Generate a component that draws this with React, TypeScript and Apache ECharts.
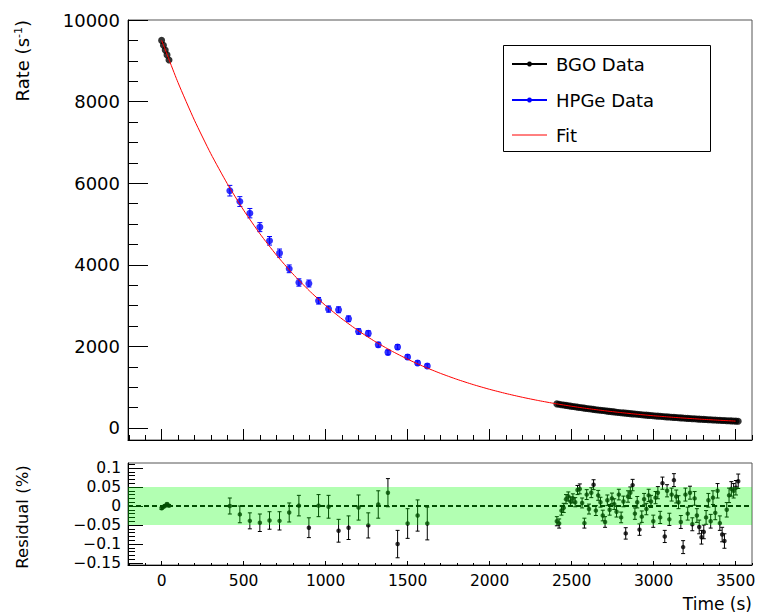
import React, { useEffect, useRef } from "react";
import * as echarts from "echarts";

const FONT = "DejaVu Sans";

// axis ranges
const X_MIN = -205;
const X_MAX = 3600;
const Y_MIN = -295;
const Y_MAX = 10000;
const R_MIN = -0.155;
const R_MAX = 0.113;
const BAND_HI = 0.05;
const BAND_LO = -0.05;

// tick values
const xMajorTicks = [0, 500, 1000, 1500, 2000, 2500, 3000, 3500];
const yMajorTicks = [0, 2000, 4000, 6000, 8000, 10000];
const rMajorTicks = [-0.15, -0.1, -0.05, 0, 0.05, 0.1];

function steps(a: number, b: number, step: number): number[] {
  const out: number[] = [];
  for (let i = 0; a + i * step <= b + 1e-9; i++) out.push(+(a + i * step).toFixed(4));
  return out;
}
const xMinorTicks = steps(-200, 3600, 100);
const yMinorTicks = steps(0, 10000, 500);
const rMinorTicks = steps(-0.15, 0.11, 0.01);

// fit curve
const fitTime = [0, 100, 200, 300, 400, 500, 600, 700, 800, 900, 1000, 1100, 1200, 1300, 1400, 1500, 1600, 1700, 1800, 1900, 2000, 2100, 2200, 2300, 2400, 2500, 2600, 2700, 2800, 2900, 3000, 3100, 3200, 3300, 3400, 3500];
const fitRate = [9500, 8466, 7544, 6723, 5991, 5339, 4757, 4239, 3778, 3366, 3000, 2673, 2382, 2123, 1892, 1686, 1502, 1339, 1193, 1063, 947, 844, 752, 670, 597, 532, 474, 423, 377, 336, 299, 267, 238, 212, 189, 168];

// BGO data, early part
const bgoEarlyTime = [0, 11, 22, 33, 45];
const bgoEarlyRate = [9500, 9380, 9262, 9145, 9020];
const bgoEarlyRes = [-0.006, -0.002, 0.001, 0.005, 0.001];
const bgoEarlyResErr = [0.003, 0.003, 0.003, 0.003, 0.003];

// BGO data, late part
const bgoLateTime = [2410, 2424, 2438, 2452, 2466, 2480, 2494, 2508, 2522, 2536, 2550, 2564, 2578, 2592, 2606, 2620, 2634, 2648, 2662, 2676, 2690, 2704, 2718, 2732, 2746, 2760, 2774, 2788, 2802, 2816, 2830, 2844, 2858, 2872, 2886, 2900, 2914, 2928, 2942, 2956, 2970, 2984, 2998, 3012, 3026, 3040, 3054, 3068, 3082, 3096, 3110, 3124, 3138, 3152, 3166, 3180, 3194, 3208, 3222, 3236, 3250, 3264, 3278, 3292, 3306, 3320, 3334, 3348, 3362, 3376, 3390, 3404, 3418, 3432, 3446, 3460, 3474, 3488, 3502, 3516];
const bgoLateRate = [590, 580, 571, 562, 553, 544, 535, 527, 518, 510, 502, 494, 486, 478, 470, 463, 455, 448, 441, 434, 427, 420, 413, 407, 400, 394, 387, 381, 375, 369, 363, 357, 352, 346, 341, 335, 330, 324, 319, 314, 309, 304, 299, 294, 290, 285, 281, 276, 272, 267, 263, 259, 255, 251, 247, 243, 239, 235, 231, 227, 224, 220, 217, 213, 210, 206, 203, 200, 197, 194, 190, 187, 184, 181, 179, 176, 173, 170, 167, 165];
const bgoLateRes = [-0.040, -0.046, -0.012, -0.005, 0.018, 0.025, 0.012, 0.020, 0.010, 0.042, 0.045, 0.008, -0.045, 0.030, -0.008, 0.035, 0.056, -0.012, 0.028, 0.010, -0.025, -0.042, 0.015, -0.010, 0.020, 0.005, -0.015, 0.030, -0.030, 0.012, -0.072, 0.025, 0.035, 0.055, -0.020, 0.010, -0.062, -0.028, 0.018, -0.008, 0.028, 0.012, -0.040, 0.022, 0.035, -0.030, 0.060, -0.080, 0.040, -0.035, 0.030, 0.068, 0.025, 0.010, -0.042, -0.108, 0.030, -0.020, 0.035, -0.048, 0.020, -0.025, -0.055, -0.082, -0.068, -0.030, 0.015, -0.040, 0.022, -0.018, 0.040, -0.045, -0.075, -0.092, -0.010, 0.028, 0.045, 0.040, 0.048, 0.065];
const bgoLateResErr = [
  0.012, 0.012, 0.012, 0.012, 0.012, 0.012, 0.012, 0.012, 0.012, 0.012,
  0.013, 0.013, 0.013, 0.013, 0.013, 0.013, 0.013, 0.013, 0.013, 0.013,
  0.014, 0.014, 0.014, 0.014, 0.014, 0.014, 0.014, 0.014, 0.014, 0.014,
  0.015, 0.015, 0.015, 0.015, 0.015, 0.015, 0.015, 0.015, 0.015, 0.015,
  0.016, 0.016, 0.016, 0.016, 0.016, 0.016, 0.016, 0.016, 0.016, 0.016,
  0.017, 0.017, 0.017, 0.017, 0.017, 0.017, 0.017, 0.017, 0.017, 0.017,
  0.018, 0.018, 0.018, 0.018, 0.018, 0.018, 0.018, 0.018, 0.018, 0.018,
  0.019, 0.019, 0.019, 0.019, 0.019, 0.019, 0.019, 0.019, 0.019, 0.019,
];

// HPGe data
const hpgeTime = [416, 477, 538, 599, 658, 719, 778, 837, 898, 957, 1018, 1079, 1140, 1201, 1260, 1321, 1380, 1439, 1500, 1561, 1620];
const hpgeRate = [5816, 5550, 5265, 4923, 4588, 4286, 3901, 3566, 3541, 3118, 2914, 2897, 2676, 2366, 2318, 2041, 1853, 1985, 1740, 1593, 1520];
const hpgeErr = [130, 120, 115, 110, 105, 100, 95, 90, 85, 80, 75, 72, 70, 66, 64, 60, 58, 56, 54, 52, 50];
const hpgeRes = [0.0, -0.022, -0.039, -0.044, -0.038, -0.039, -0.017, 0.001, -0.057, 0.001, -0.002, -0.065, -0.057, -0.004, -0.051, 0.004, 0.035, -0.1, -0.046, -0.025, -0.046];
const hpgeResErr = [0.021, 0.022, 0.021, 0.023, 0.023, 0.024, 0.025, 0.027, 0.026, 0.029, 0.03, 0.03, 0.031, 0.033, 0.033, 0.036, 0.037, 0.036, 0.039, 0.041, 0.043];

const zip = (a: number[], b: number[]) => a.map((v, i) => [v, b[i]]);
const zip3 = (a: number[], b: number[], c: number[]) => a.map((v, i) => [v, b[i], c[i]]);

function errorBars(color: string, capHalf: number) {
  return (_params: any, api: any) => {
    const x = api.value(0);
    const y = api.value(1);
    const e = api.value(2);
    const top = api.coord([x, y + e]);
    const bot = api.coord([x, y - e]);
    const style = { stroke: color, lineWidth: 1 };
    return {
      type: "group",
      children: [
        { type: "line", shape: { x1: top[0], y1: top[1], x2: bot[0], y2: bot[1] }, style },
        { type: "line", shape: { x1: top[0] - capHalf, y1: top[1], x2: top[0] + capHalf, y2: top[1] }, style },
        { type: "line", shape: { x1: bot[0] - capHalf, y1: bot[1], x2: bot[0] + capHalf, y2: bot[1] }, style },
      ],
    };
  };
}

const plainNum = (v: number) => (v < 0 ? "\u2212" + String(Math.abs(v)) : String(v));

function mainAxis(grid: number, min: number, max: number, pos: string, ticks: number[], len: number, labels: boolean, extraLabel: any = {}) {
  return {
    type: "value",
    gridIndex: grid,
    position: pos,
    min,
    max,
    axisLine: { show: true, onZero: false, lineStyle: { color: "#000", width: 1 } },
    axisTick: { show: true, inside: true, length: len, customValues: ticks, lineStyle: { color: "#000", width: 1 } },
    axisLabel: labels
      ? { show: true, customValues: ticks, color: "#000", fontFamily: FONT, formatter: plainNum, ...extraLabel }
      : { show: false },
    splitLine: { show: false },
    minorTick: { show: false },
  };
}
function minorAxis(grid: number, min: number, max: number, pos: string, ticks: number[], len: number) {
  return {
    type: "value",
    gridIndex: grid,
    position: pos,
    min,
    max,
    axisLine: { show: false, onZero: false },
    axisTick: { show: true, inside: true, length: len, customValues: ticks, lineStyle: { color: "#000", width: 1 } },
    axisLabel: { show: false },
    splitLine: { show: false },
    minorTick: { show: false },
  };
}

export default function App() {
  const ref = useRef<HTMLDivElement>(null);
  useEffect(() => {
    if (!ref.current) return;
    const chart = echarts.init(ref.current, null, { renderer: "svg" });
    const residAll = [
      ...zip3(bgoEarlyTime, bgoEarlyRes, bgoEarlyResErr),
      ...zip3(hpgeTime, hpgeRes, hpgeResErr),
      ...zip3(bgoLateTime, bgoLateRes, bgoLateResErr),
    ];
    const option: any = {
      animation: false,
      backgroundColor: "#fff",
      textStyle: { fontFamily: FONT },
      grid: [
        { left: 128, top: 20, width: 624, height: 420, show: true, borderColor: "#555", borderWidth: 1, backgroundColor: "transparent", outerBoundsMode: "none" },
        { left: 128, top: 463, width: 624, height: 102, show: true, borderColor: "#555", borderWidth: 1, backgroundColor: "transparent", outerBoundsMode: "none" },
      ],
      xAxis: [
        mainAxis(0, X_MIN, X_MAX, "bottom", xMajorTicks, 11, false),
        minorAxis(0, X_MIN, X_MAX, "bottom", xMinorTicks, 5),
        mainAxis(1, X_MIN, X_MAX, "bottom", xMajorTicks, 4, true, { margin: 8, fontSize: 15.5 }),
        minorAxis(1, X_MIN, X_MAX, "bottom", xMinorTicks, 2),
      ],
      yAxis: [
        mainAxis(0, Y_MIN, Y_MAX, "left", yMajorTicks, 20, true, { margin: 8, fontSize: 18 }),
        minorAxis(0, Y_MIN, Y_MAX, "left", yMinorTicks, 10),
        mainAxis(1, R_MIN, R_MAX, "left", rMajorTicks, 15, true, { margin: 7, fontSize: 15.5 }),
        minorAxis(1, R_MIN, R_MAX, "left", rMinorTicks, 7),
      ],
      series: [
        {
          type: "custom",
          xAxisIndex: 0,
          yAxisIndex: 0,
          renderItem: errorBars("#0000ff", 2.5),
          data: zip3(hpgeTime, hpgeRate, hpgeErr),
          encode: { x: 0, y: 1 },
          z: 2,
          silent: true,
        },
        {
          name: "HPGe Data",
          type: "scatter",
          xAxisIndex: 0,
          yAxisIndex: 0,
          data: zip(hpgeTime, hpgeRate),
          symbol: "circle",
          symbolSize: 7,
          itemStyle: { color: "#0000ff" },
          z: 3,
          silent: true,
        },
        {
          name: "BGO Data",
          type: "scatter",
          xAxisIndex: 0,
          yAxisIndex: 0,
          data: [...zip(bgoEarlyTime, bgoEarlyRate), ...zip(bgoLateTime, bgoLateRate)],
          symbol: "circle",
          symbolSize: 7,
          itemStyle: { color: "#000" },
          z: 3,
          silent: true,
        },
        {
          name: "Fit",
          type: "line",
          xAxisIndex: 0,
          yAxisIndex: 0,
          data: zip(fitTime, fitRate),
          smooth: 0.2,
          showSymbol: false,
          symbol: "none",
          lineStyle: { color: "#ff0000", width: 1 },
          z: 4,
          silent: true,
        },
        {
          type: "line",
          xAxisIndex: 2,
          yAxisIndex: 2,
          data: [[X_MIN, 0], [X_MAX, 0]],
          symbol: "none",
          lineStyle: { color: "#000", width: 2, type: [5, 3] },
          z: 1,
          silent: true,
        },
        {
          type: "custom",
          xAxisIndex: 2,
          yAxisIndex: 2,
          renderItem: errorBars("#000", 2),
          data: residAll,
          encode: { x: 0, y: 1 },
          z: 2,
          silent: true,
        },
        {
          type: "scatter",
          xAxisIndex: 2,
          yAxisIndex: 2,
          data: residAll.map((d) => [d[0], d[1]]),
          symbol: "circle",
          symbolSize: 4.5,
          itemStyle: { color: "#000" },
          z: 3,
          silent: true,
        },
        {
          type: "custom",
          xAxisIndex: 2,
          yAxisIndex: 2,
          data: [[0, 0]],
          renderItem: (_p: any, api: any) => {
            const p1 = api.coord([X_MIN, BAND_HI]);
            const p2 = api.coord([X_MAX, BAND_LO]);
            return {
              type: "rect",
              shape: { x: p1[0], y: p1[1], width: p2[0] - p1[0], height: p2[1] - p1[1] },
              style: { fill: "rgba(0,255,0,0.3)" },
            };
          },
          z: 6,
          silent: true,
        },
      ],
      graphic: [
        {
          type: "text",
          x: 22,
          y: 20,
          rotation: Math.PI / 2,
          style: {
            text: "Rate (s{sup|-1})",
            fontFamily: FONT,
            fontSize: 18,
            fill: "#000",
            textAlign: "right",
            textVerticalAlign: "middle",
            rich: { sup: { fontSize: 11, fontFamily: FONT, fill: "#000", verticalAlign: "top", padding: [0, 0, 8, 0] } },
          },
        },
        {
          type: "text",
          x: 22,
          y: 517,
          rotation: Math.PI / 2,
          style: { text: "Residual (%)", fontFamily: FONT, fontSize: 16.5, fill: "#000", textAlign: "center", textVerticalAlign: "middle" },
        },
        {
          type: "text",
          x: 752,
          y: 604,
          style: { text: "Time (s)", fontFamily: FONT, fontSize: 17, fill: "#000", textAlign: "right", textVerticalAlign: "middle" },
        },
        {
          type: "group",
          children: [
            { type: "rect", shape: { x: 503.5, y: 45.5, width: 207, height: 106 }, style: { fill: "#fff", stroke: "#000", lineWidth: 1 }, z: 10 },
            { type: "line", shape: { x1: 512, y1: 64, x2: 547, y2: 64 }, style: { stroke: "#000", lineWidth: 2 }, z: 11 },
            { type: "circle", shape: { cx: 529.5, cy: 64, r: 2.5 }, style: { fill: "#000" }, z: 11 },
            { type: "text", x: 556, y: 64, style: { text: "BGO Data", fontFamily: FONT, fontSize: 18, fill: "#000", textVerticalAlign: "middle" }, z: 11 },
            { type: "line", shape: { x1: 512, y1: 100, x2: 547, y2: 100 }, style: { stroke: "#0000ff", lineWidth: 2 }, z: 11 },
            { type: "circle", shape: { cx: 529.5, cy: 100, r: 2.5 }, style: { fill: "#0000ff" }, z: 11 },
            { type: "text", x: 556, y: 100, style: { text: "HPGe Data", fontFamily: FONT, fontSize: 18, fill: "#000", textVerticalAlign: "middle" }, z: 11 },
            { type: "line", shape: { x1: 512, y1: 135, x2: 547, y2: 135 }, style: { stroke: "#ff0000", lineWidth: 1 }, z: 11 },
            { type: "text", x: 556, y: 135, style: { text: "Fit", fontFamily: FONT, fontSize: 18, fill: "#000", textVerticalAlign: "middle" }, z: 11 },
          ],
        },
      ],
    };
    chart.setOption(option);
    return () => chart.dispose();
  }, []);
  return <div ref={ref} style={{ position: "absolute", left: 0, top: 0, width: 757, height: 614 }} />;
}
